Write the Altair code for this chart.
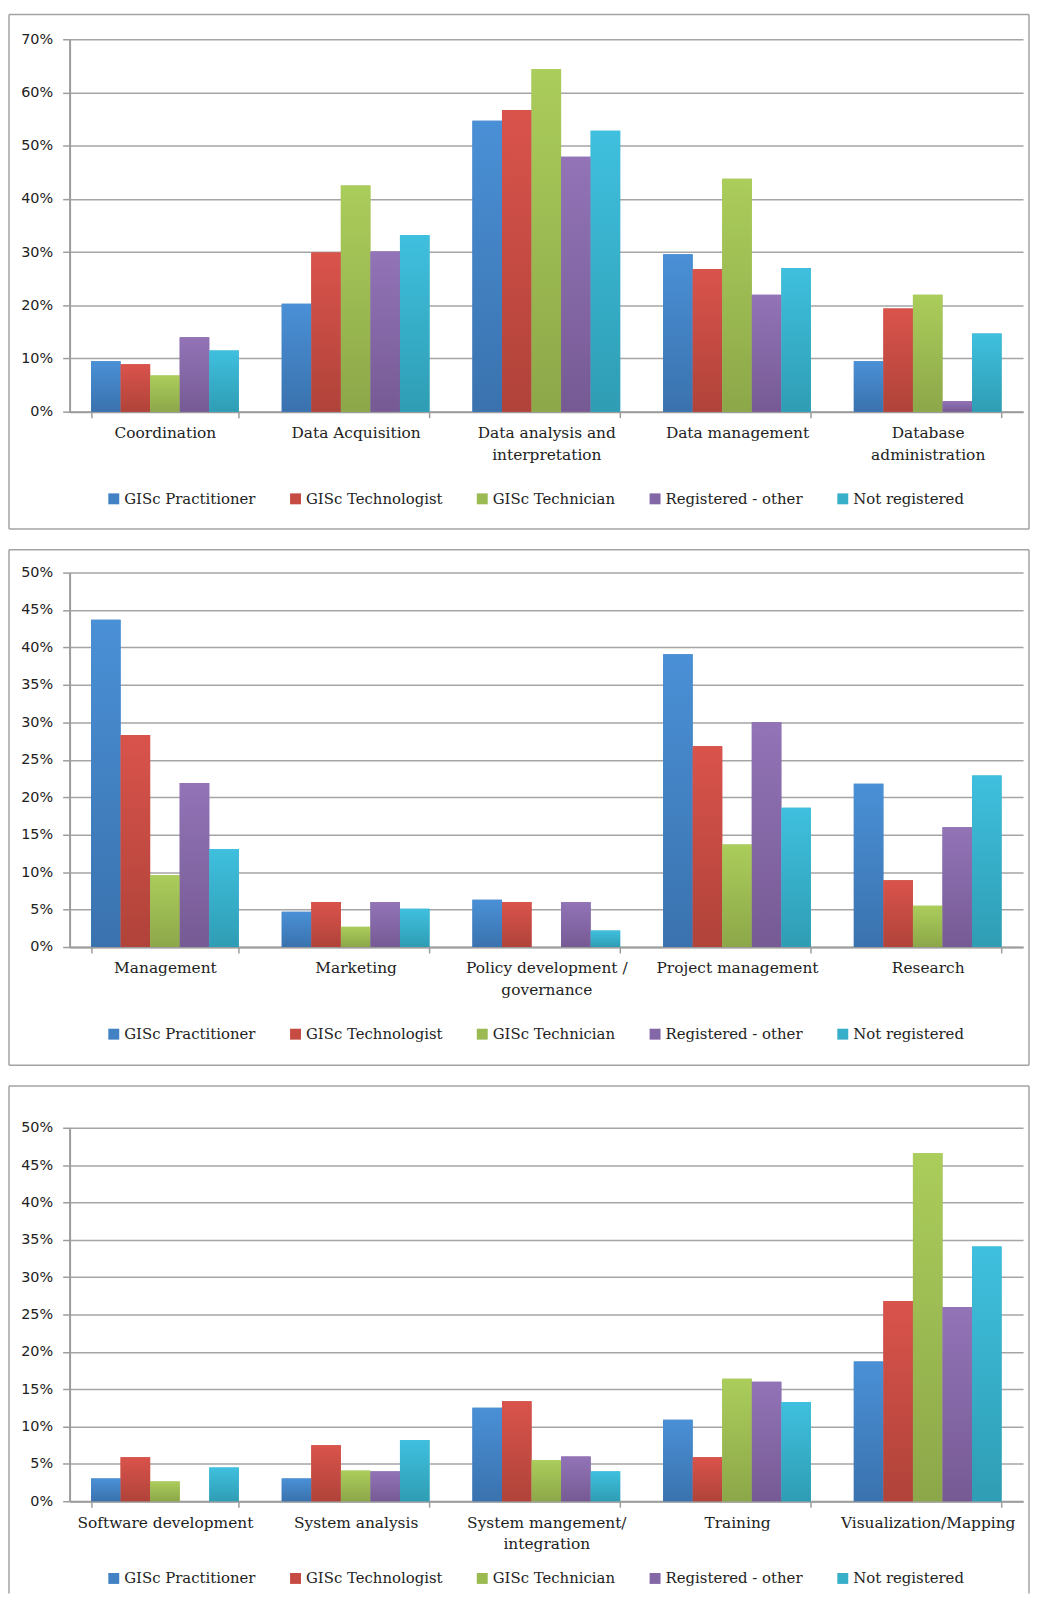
import altair as alt
import pandas as pd

series = ["GISc Practitioner", "GISc Technologist", "GISc Technician",
          "Registered - other", "Not registered"]
top_colors = ["#4a90d6", "#d9534b", "#abcd5b", "#9274b7", "#3fc0de"]
bottom_colors = ["#3a72ae", "#b0433a", "#8ca749", "#765a94", "#2f9db4"]
legend_colors = ["#4282c4", "#c64b42", "#9cba52", "#8467a6", "#37afc9"]

# Panel 1
cats1 = ["Coordination", "Data Acquisition", "Data analysis and\ninterpretation",
         "Data management", "Database\nadministration"]
p1_practitioner = [9.5, 20.3, 54.7, 29.6, 9.5]
p1_technologist = [8.9, 29.9, 56.7, 26.8, 19.4]
p1_technician = [6.8, 42.5, 64.4, 43.8, 22.0]
p1_registered_other = [14.0, 30.1, 47.9, 22.0, 2.0]
p1_not_registered = [11.5, 33.2, 52.8, 27.0, 14.7]

# Panel 2
cats2 = ["Management", "Marketing", "Policy development /\ngovernance",
         "Project management", "Research"]
p2_practitioner = [43.7, 4.7, 6.3, 39.1, 21.8]
p2_technologist = [28.3, 6.0, 6.0, 26.8, 8.9]
p2_technician = [9.6, 2.7, 0.0, 13.7, 5.5]
p2_registered_other = [21.9, 6.0, 6.0, 30.0, 16.0]
p2_not_registered = [13.1, 5.1, 2.2, 18.6, 22.9]

# Panel 3
cats3 = ["Software development", "System analysis", "System mangement/\nintegration",
         "Training", "Visualization/Mapping"]
p3_practitioner = [3.05, 3.05, 12.5, 10.9, 18.7]
p3_technologist = [5.9, 7.5, 13.4, 5.9, 26.8]
p3_technician = [2.65, 4.1, 5.5, 16.4, 46.6]
p3_registered_other = [0.0, 4.0, 6.0, 16.0, 26.0]
p3_not_registered = [4.5, 8.2, 4.0, 13.3, 34.1]

AX = "#9c9c9c"
TXT = "#222222"
BOX = "#a3a3a3"
W = 960
BOX_L = -61
BOX_R = 966


def frame(top, bottom, with_bottom=True):
    one = pd.DataFrame({"k": [0]})
    parts = [
        alt.Chart(one).mark_rule(stroke=BOX, strokeWidth=1.5).encode(
            x=alt.value(BOX_L), x2=alt.value(BOX_R), y=alt.value(top)),
        alt.Chart(one).mark_rule(stroke=BOX, strokeWidth=1.5).encode(
            x=alt.value(BOX_L), y=alt.value(top), y2=alt.value(bottom)),
        alt.Chart(one).mark_rule(stroke=BOX, strokeWidth=1.5).encode(
            x=alt.value(BOX_R), y=alt.value(top), y2=alt.value(bottom)),
    ]
    if with_bottom:
        parts.append(alt.Chart(one).mark_rule(stroke=BOX, strokeWidth=1.5).encode(
            x=alt.value(BOX_L), x2=alt.value(BOX_R), y=alt.value(bottom)))
    return parts


def panel(cats, vals, ymax, ystep, h, box_top, box_bottom, legend_y, with_bottom=True):
    rows = []
    for s, vs in zip(series, vals):
        for c, v in zip(cats, vs):
            rows.append({"category": c, "series": s, "value": v})
    df = pd.DataFrame(rows)

    x = alt.X("category:N", sort=cats,
              scale=alt.Scale(paddingInner=0.225, paddingOuter=0.1125),
              axis=alt.Axis(title=None, labelAngle=0,
                            labelExpr="split(datum.label, '\\n')",
                            labelFont="DejaVu Serif", labelFontSize=15.5,
                            labelColor=TXT, labelLineHeight=22, labelPadding=8,
                            labelLimit=0, tickBand="extent", tickSize=6,
                            tickColor=AX, tickWidth=1.5, domainColor=AX,
                            domainWidth=2, grid=False))
    y = alt.Y("value:Q", scale=alt.Scale(domain=[0, ymax], nice=False, zero=True),
              axis=alt.Axis(title=None, values=list(range(0, ymax + 1, ystep)),
                            labelExpr="datum.value + '%'",
                            labelFont="DejaVu Sans", labelFontSize=14.5,
                            labelColor=TXT, tickSize=7, labelPadding=10,
                            tickColor=AX, tickWidth=1.5, domainColor=AX,
                            domainWidth=2, gridColor="#a5a5a5", gridWidth=1.5))
    xo = alt.XOffset("series:N", sort=series,
                     scale=alt.Scale(domain=series, paddingInner=0, paddingOuter=0))

    base = alt.Chart(df)
    flat = base.mark_bar().encode(
        x=x, xOffset=xo, y=y,
        color=alt.Color("series:N", sort=series,
                        scale=alt.Scale(domain=series, range=legend_colors),
                        legend=alt.Legend(title=None, orient="none", legendX=37,
                                          legendY=legend_y, direction="horizontal",
                                          columns=5, symbolType="square",
                                          symbolSize=121, symbolStrokeWidth=0,
                                          labelFont="DejaVu Serif", labelFontSize=15,
                                          labelColor=TXT, labelOffset=3,
                                          columnPadding=32, labelLimit=0)))
    grads = []
    for s, t, b in zip(series, top_colors, bottom_colors):
        g = alt.Gradient(gradient="linear",
                         stops=[alt.GradientStop(color=t, offset=0),
                                alt.GradientStop(color=b, offset=1)],
                         x1=0, x2=0, y1=0, y2=1)
        grads.append(base.transform_filter(alt.datum.series == s)
                     .mark_bar(fill=g).encode(x=x, xOffset=xo, y=y))
    layers = frame(box_top, box_bottom, with_bottom) + [flat] + grads
    return alt.layer(*layers).properties(width=W, height=h)


h1, h2, h3 = 375, 377, 376
c1 = panel(cats1, [p1_practitioner, p1_technologist, p1_technician,
                   p1_registered_other, p1_not_registered],
           70, 10, h1, -25, h1 + 118, h1 + 80)
c2 = panel(cats2, [p2_practitioner, p2_technologist, p2_technician,
                   p2_registered_other, p2_not_registered],
           50, 5, h2, -23, h2 + 119, h2 + 80)
c3 = panel(cats3, [p3_practitioner, p3_technologist, p3_technician,
                   p3_registered_other, p3_not_registered],
           50, 5, h3, -42, h3 + 93, h3 + 70, with_bottom=False)

chart = alt.vconcat(c1, c2, c3, spacing=19).resolve_scale(
    x="independent", y="independent", color="independent", xOffset="independent"
).resolve_legend(color="independent").properties(
    padding={"left": 0, "top": 0, "right": 0, "bottom": 0},
    background="white"
).configure_view(strokeWidth=0)

chart.save("out.html", embed_options={"renderer": "svg", "actions": False})
